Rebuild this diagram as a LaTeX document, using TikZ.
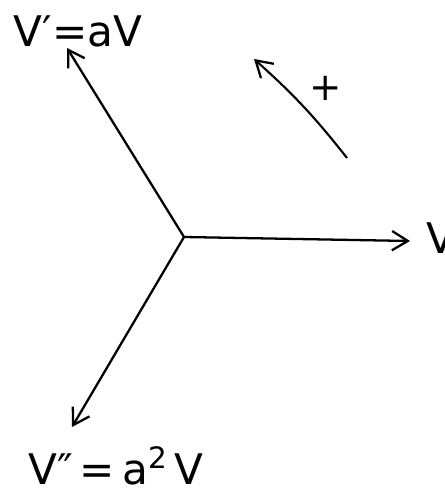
\documentclass[tikz,border=0pt]{standalone}
\usepackage{fontspec}
\setmainfont{DejaVu Sans}
\usetikzlibrary{arrows.meta}
\begin{document}
\begin{tikzpicture}[x=0.02cm,y=-0.02cm,
  vec/.style={line width=1.3pt,-{Straight Barb[length=9pt,width=11pt,line width=1.3pt]}},
  lbl/.style={font=\fontsize{24}{28}\selectfont, inner sep=0pt}]
\useasboundingbox (0,0) rectangle (444,492);
\coordinate (O) at (184,237);
\coordinate (A) at (410,241);
\coordinate (B) at (67,48);
\coordinate (C) at (72,427);
\draw[vec] (O) -- (A);
\draw[vec] (O) -- (B);
\draw[vec] (O) -- (C);
\node[lbl, anchor=west] (lv) at (426,238) {V};
\node[lbl] (lb) at (78,31) {V′=aV};
\node[lbl] (lc) at (116,466) {V″\,=\,a\textsuperscript{2}\,V};
\coordinate (S) at (347,158);
\coordinate (E) at (254,59);
\draw[vec, line width=1.2pt] (S) to[bend right=5] (E);
\node[font=\fontsize{22}{26}\selectfont, inner sep=0pt] (plus) at (326,88) {+};
\end{tikzpicture}
\end{document}
